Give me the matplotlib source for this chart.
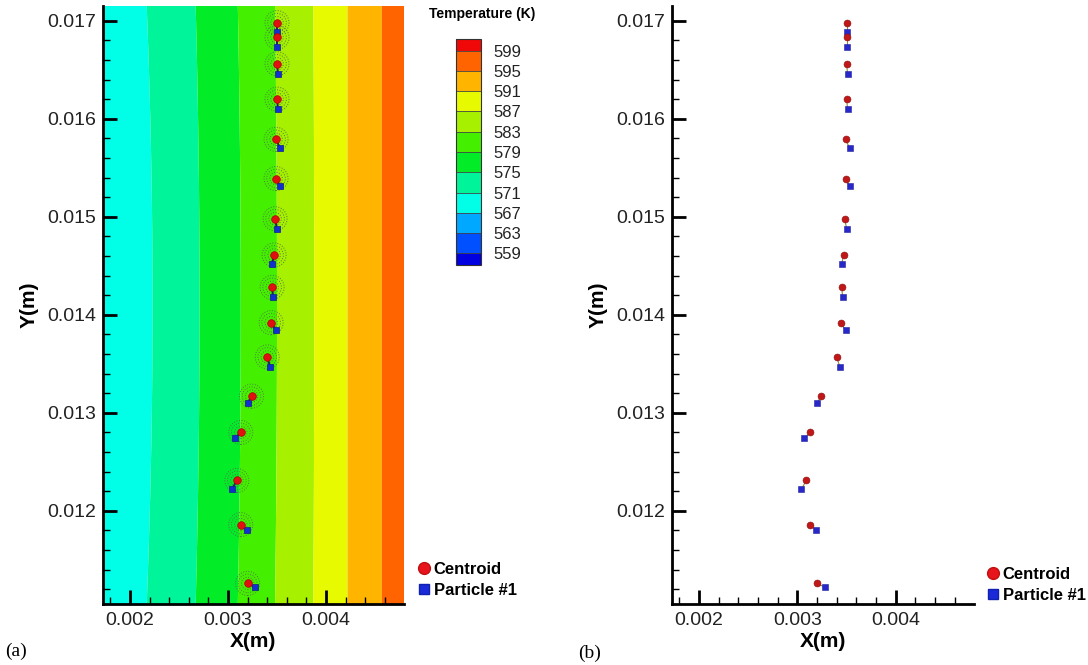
import numpy as np
import matplotlib
matplotlib.use("Agg")
import matplotlib.pyplot as plt
from matplotlib.colors import ListedColormap, BoundaryNorm
from matplotlib.collections import LineCollection
from matplotlib.lines import Line2D
from matplotlib.ticker import MultipleLocator, FormatStrFormatter

plt.rcParams['font.family'] = ['Liberation Sans', 'DejaVu Sans']

# ---- data -------------------------------------------------------------
centroid_x = [0.00350, 0.00350, 0.00350, 0.00350, 0.00349, 0.00349, 0.00348, 0.00347,
              0.00345, 0.00344, 0.00340, 0.00324, 0.00313, 0.00309, 0.00313, 0.00320]
centroid_y = [0.01698, 0.01683, 0.01656, 0.01620, 0.01579, 0.01539, 0.01498, 0.01461,
              0.01428, 0.01392, 0.01357, 0.01317, 0.01280, 0.01231, 0.01186, 0.01126]
particle_x = [0.00350, 0.00350, 0.00351, 0.00351, 0.00353, 0.00353, 0.00350, 0.00345,
              0.00346, 0.00349, 0.00343, 0.00320, 0.00307, 0.00304, 0.00319, 0.00328]
particle_y = [0.01688, 0.01673, 0.01646, 0.01610, 0.01570, 0.01531, 0.01488, 0.01452,
              0.01418, 0.01384, 0.01347, 0.01310, 0.01274, 0.01222, 0.01180, 0.01122]

# temperature levels and where each contour crosses mid-height (x, m)
levels = [559, 563, 567, 571, 575, 579, 583, 587, 591, 595, 599]
field_levels = [555, 559, 563, 567, 571, 575, 579, 583, 587, 591, 595, 599, 603]
field_x_mid = [0.00010, 0.00060, 0.00115, 0.00168, 0.00217, 0.00267, 0.00310, 0.00348,
               0.00387, 0.00422, 0.00457, 0.00492, 0.00530]
field_bow = [0.00006, 0.00006, 0.00006, 0.00006, 0.00006, 0.00004, 0.00003, 0.00002,
             0.00001, 0.0, 0.0, 0.0, 0.0]
band_colors = ['#0050ff', '#00a8ff', '#00ffe6', '#00f59a', '#02ec28',
               '#44f000', '#a6f000', '#e8fa00', '#ffb400', '#ff6400']
under_color = '#0000e0'
over_color = '#f00808'

xlim = (0.001724, 0.004796)
ylim = (0.01105, 0.01715)

# ---- temperature field ----------------------------------------------
gx = np.linspace(0.0016, 0.0050, 1400)
gy = np.linspace(0.0109, 0.0173, 400)
X, Y = np.meshgrid(gx, gy)
T = np.empty_like(X)
fx = np.array(field_x_mid)
fb = np.array(field_bow)
for i, yy in enumerate(gy):
    s = (yy - 0.0141) / 0.00305
    xb = fx + fb * (1 - s ** 2)
    T[i] = np.interp(gx, xb, field_levels)

cmap = ListedColormap(band_colors)
cmap.set_under(under_color)
cmap.set_over(over_color)
norm = BoundaryNorm(levels, cmap.N)

W, H = 1088, 665
fig = plt.figure(figsize=(W / 100, H / 100), dpi=100)

def px_axes(l, t, r, b):
    return fig.add_axes([l / W, 1 - b / H, (r - l) / W, (b - t) / H])

axA = px_axes(103, 6, 404, 604)
axB = px_axes(672, 6, 974, 604)

cf = axA.contourf(X, Y, T, levels=levels, cmap=cmap, norm=norm, extend='both',
                  antialiased=True, zorder=0)

# particle clusters (dotted rings) and markers
for s_ring in (300, 180, 80):
    axA.scatter(centroid_x, centroid_y, s=s_ring, facecolors='none',
                edgecolors='#4f7a48', linewidths=0.7, linestyles=':', zorder=2)
segs = [[(cx, cy), (px, py)] for cx, cy, px, py in zip(centroid_x, centroid_y, particle_x, particle_y)]
axA.add_collection(LineCollection(segs, colors='#1a2a60', linewidths=1.4, zorder=3))
axA.plot(particle_x, particle_y, 's', color='#1030d0', ms=4.5, mec='#102090', mew=0.5, zorder=4)
axA.plot(centroid_x, centroid_y, 'o', color='#e01010', ms=5.5, mec='#b00000', mew=0.5, zorder=5)

axB.add_collection(LineCollection(segs, colors='#8a8a40', linewidths=0.8, zorder=2))
axB.plot(particle_x, particle_y, 's', color='#2828c8', ms=4.5, mec='#2020a0', mew=0.4, ls='none', zorder=3)
axB.plot(centroid_x, centroid_y, 'o', color='#c01818', ms=5, mec='#901010', mew=0.4, ls='none', zorder=4)

for ax in (axA, axB):
    ax.set_xlim(*xlim)
    ax.set_ylim(*ylim)
    for sp in ('top', 'right'):
        ax.spines[sp].set_visible(False)
    for sp in ('left', 'bottom'):
        ax.spines[sp].set_linewidth(2)
        ax.spines[sp].set_zorder(10)
    ax.xaxis.set_major_locator(MultipleLocator(0.001))
    ax.xaxis.set_minor_locator(MultipleLocator(0.0002))
    ax.yaxis.set_major_locator(MultipleLocator(0.001))
    ax.yaxis.set_minor_locator(MultipleLocator(0.0002))
    ax.xaxis.set_major_formatter(FormatStrFormatter('%.3f'))
    ax.yaxis.set_major_formatter(FormatStrFormatter('%.3f'))
    ax.tick_params(which='major', direction='in', length=10, width=2, labelsize=14,
                   labelcolor='#222222', top=False, right=False)
    ax.tick_params(which='minor', direction='in', length=5, width=1, top=False, right=False)
    ax.tick_params(axis='y', which='major', pad=5)
    ax.tick_params(axis='x', which='major', pad=6)
    ax.set_xlabel('X(m)', fontsize=15, fontweight='bold', labelpad=2)
    ax.set_ylabel('Y(m)', fontsize=15, fontweight='bold', labelpad=6)
    ax.set_axisbelow(False)

# colorbar (cax spans the end boxes too)
cax = px_axes(456, 39, 481, 265)
cb = fig.colorbar(cf, cax=cax, extend='both', extendrect=True, extendfrac=0.058,
                  drawedges=True, ticks=levels)
cb.outline.set_linewidth(0.8)
cb.outline.set_edgecolor('#333333')
cb.dividers.set_color('#444444')
cb.dividers.set_linewidth(0.6)
cax.tick_params(length=0, pad=9, labelsize=12, labelcolor='#222222')
fig.text(482 / W, 1 - 14 / H, 'Temperature (K)', ha='center', va='center',
         fontsize=10, fontweight='bold')

# legends
handles = [Line2D([], [], marker='o', ls='none', color='#e8141c', ms=8.5, mec='#c01010'),
           Line2D([], [], marker='s', ls='none', color='#1a2ad8', ms=7, mec='#1020b0')]
for ax, (lx, ly) in ((axA, (418, 562)), (axB, (987, 567))):
    ax.legend(handles, ['Centroid', 'Particle #1'], loc='upper left',
              bbox_to_anchor=(lx / W, 1 - ly / H), bbox_transform=fig.transFigure,
              frameon=False, borderpad=0, borderaxespad=0, handlelength=0.7,
              handletextpad=0.25, labelspacing=0.35,
              prop={'size': 12, 'weight': 'bold'})

fig.text(5 / W, 1 - 651 / H, '(a)', fontsize=14, family='Liberation Serif', va='center')
fig.text(578 / W, 1 - 653 / H, '(b)', fontsize=14, family='Liberation Serif', va='center')

fig.savefig('out.png', dpi=100)
